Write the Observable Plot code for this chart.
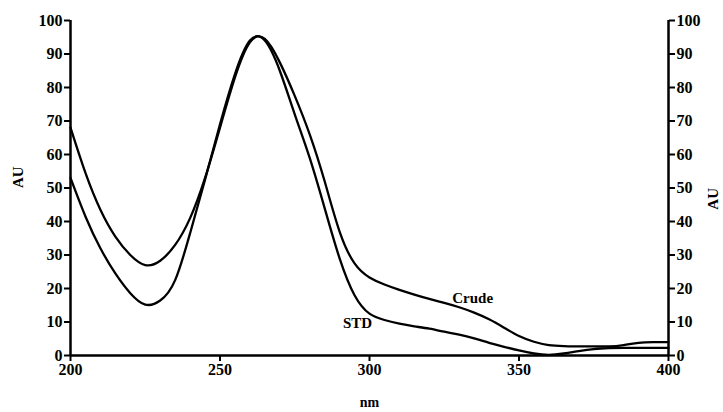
<!DOCTYPE html>
<html><head><meta charset="utf-8">
<script src="https://cdn.jsdelivr.net/npm/d3@7"></script>
<script src="https://cdn.jsdelivr.net/npm/@observablehq/plot@0.6"></script>
<style>body{margin:0;background:#fff}</style>
</head><body><div id="chart"></div>
<script>
const nm = [200,205,210,215,220,225,230,235,240,245,250,255,260,265,270,275,280,285,290,295,300,305,310,315,320,325,330,335,340,345,350,355,360,365,370,375,380,385,390,395,400];
const crude = [68,54.5,43.5,35.5,30,27,28.3,33,41,53,68,83,93.5,94.5,87.5,77.5,66,52,37,27.5,23.3,21.2,19.6,18.2,16.9,15.7,14.4,12.8,10.8,8.3,5.8,4.1,3.1,2.8,2.7,2.7,2.7,3.1,3.8,4.0,4.0];
const std = [53,41.5,32,24.5,18.6,15.2,16.4,22.5,36.5,52.5,69,84,94,94,85,72,59,44,29,18,12.5,10.6,9.5,8.7,8.0,7.1,6.2,5.1,3.8,2.6,1.5,0.6,0.2,0.6,1.3,1.9,2.2,2.3,2.3,2.3,2.3];
const xTicks = [200,250,300,350,400];
const yTicks = [0,10,20,30,40,50,60,70,80,90,100];
const labelText = ["Crude","STD"];
const labelX = [334.5,296];
const labelY = [17,9.6];

const crudeRows = nm.map((x,i)=>({nm:x, au:crude[i]}));
const stdRows = nm.map((x,i)=>({nm:x, au:std[i]}));
const labels = labelText.map((t,i)=>({t, x:labelX[i], y:labelY[i]}));

const chart = Plot.plot({
  width: 723, height: 412,
  marginLeft: 70, marginRight: 55, marginTop: 20, marginBottom: 57,
  style: {fontFamily: "'Liberation Serif', serif", fontSize: "16px", fontWeight: "bold", background: "#fff", color: "#000"},
  x: {domain: [200,400]},
  y: {domain: [0,100]},
  marks: [
    Plot.axisX({ticks: xTicks, tickSize: 6, tickPadding: 2, strokeWidth: 2, label: null}),
    Plot.axisY({ticks: yTicks, anchor: "left", tickSize: 6, tickPadding: 2, strokeWidth: 2, label: null}),
    Plot.axisY({ticks: yTicks, anchor: "right", tickSize: 6, tickPadding: 2, strokeWidth: 2, label: null}),
    Plot.ruleX([200], {y1: 0, y2: 100, strokeWidth: 2.5}),
    Plot.ruleX([400], {y1: 0, y2: 100, strokeWidth: 2.5}),
    Plot.ruleY([0], {x1: 200, x2: 400, strokeWidth: 2.5}),
    Plot.line(crudeRows, {x: "nm", y: "au", curve: "natural", stroke: "#000", strokeWidth: 2.3}),
    Plot.line(stdRows, {x: "nm", y: "au", curve: "natural", stroke: "#000", strokeWidth: 2.3}),
    Plot.text(labels, {x: "x", y: "y", text: "t", fontSize: 15, fill: "#000"}),
    Plot.text(["nm"], {frameAnchor: "bottom", dy: 51, text: d => d, fontSize: 14, fill: "#000"}),
    Plot.text(["AU"], {frameAnchor: "left", dx: -52, rotate: -90, text: d => d, fontSize: 15, fill: "#000"}),
    Plot.text(["AU"], {frameAnchor: "right", dx: 45, rotate: -90, text: d => d, fontSize: 15, fill: "#000"})
  ]
});
document.getElementById("chart").appendChild(chart);
</script>
</body></html>
